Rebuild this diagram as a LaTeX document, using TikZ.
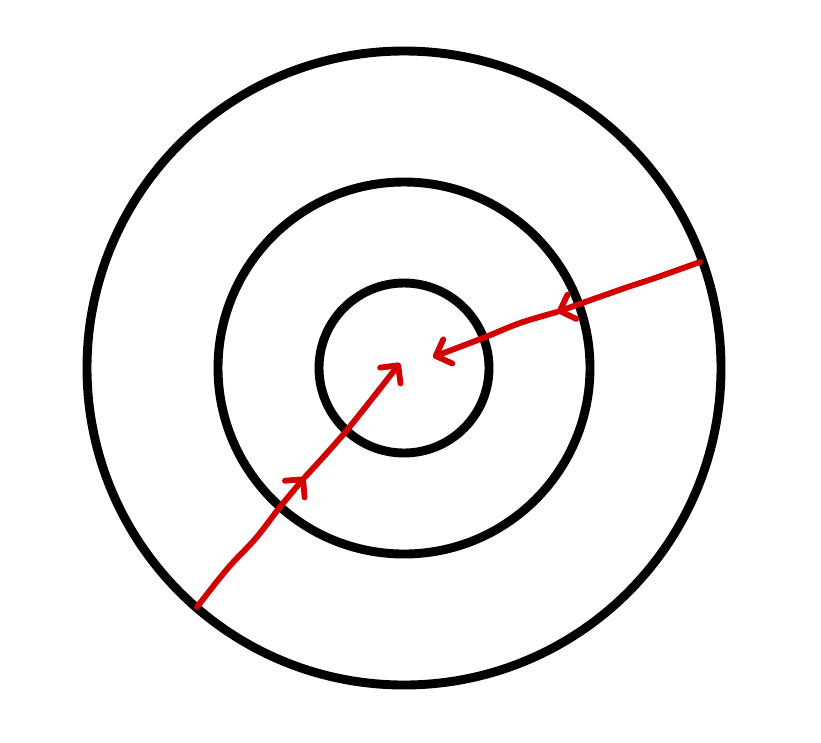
\documentclass[tikz,border=0pt]{standalone}
\usepackage{tikz}
\usetikzlibrary{arrows.meta}
\definecolor{rd}{HTML}{D20000}

\begin{document}
\begin{tikzpicture}[x=0.03cm,y=-0.03cm,
    ring/.style={line width=7.6pt},
    flow/.style={color=rd,line width=5pt,line cap=round,line join=round,
      -{Straight Barb[length=11pt,width=22pt,line width=5pt,round]}}]
            \useasboundingbox (0,0) rectangle (821,742);
            \coordinate (O) at (404,368);
            \draw[ring] (O) circle (317);
            \draw[ring] (O) circle (186);
            \draw[ring] (O) circle (85);
            % lower left arrow
            \coordinate (p1) at (197,607);
            \coordinate (p2) at (228,568);
            \coordinate (p3) at (256,538);
            \coordinate (p4) at (280,507);
            \coordinate (p5) at (305,477);
            \coordinate (p6) at (347,430);
            \coordinate (p7) at (400,363);
            \draw[flow] plot[smooth,tension=0.6] coordinates {(p1) (p2) (p3) (p4) (p5)};
            \draw[flow] plot[smooth,tension=0.6] coordinates {(p5) (p6) (p7)};
            % right arrow
            \coordinate (q1) at (700,262);
            \coordinate (q2) at (655,278);
            \coordinate (q3) at (622,289);
            \coordinate (q5) at (557,312);
            \coordinate (q6) at (520,323);
            \coordinate (q7) at (483,338);
            \coordinate (q8) at (433,357);
            \draw[flow] plot[smooth,tension=0.6] coordinates {(q1) (q2) (q3) (q5)};
            \draw[flow] plot[smooth,tension=0.6] coordinates {(q5) (q6) (q7) (q8)};
          \end{tikzpicture}
\end{document}
